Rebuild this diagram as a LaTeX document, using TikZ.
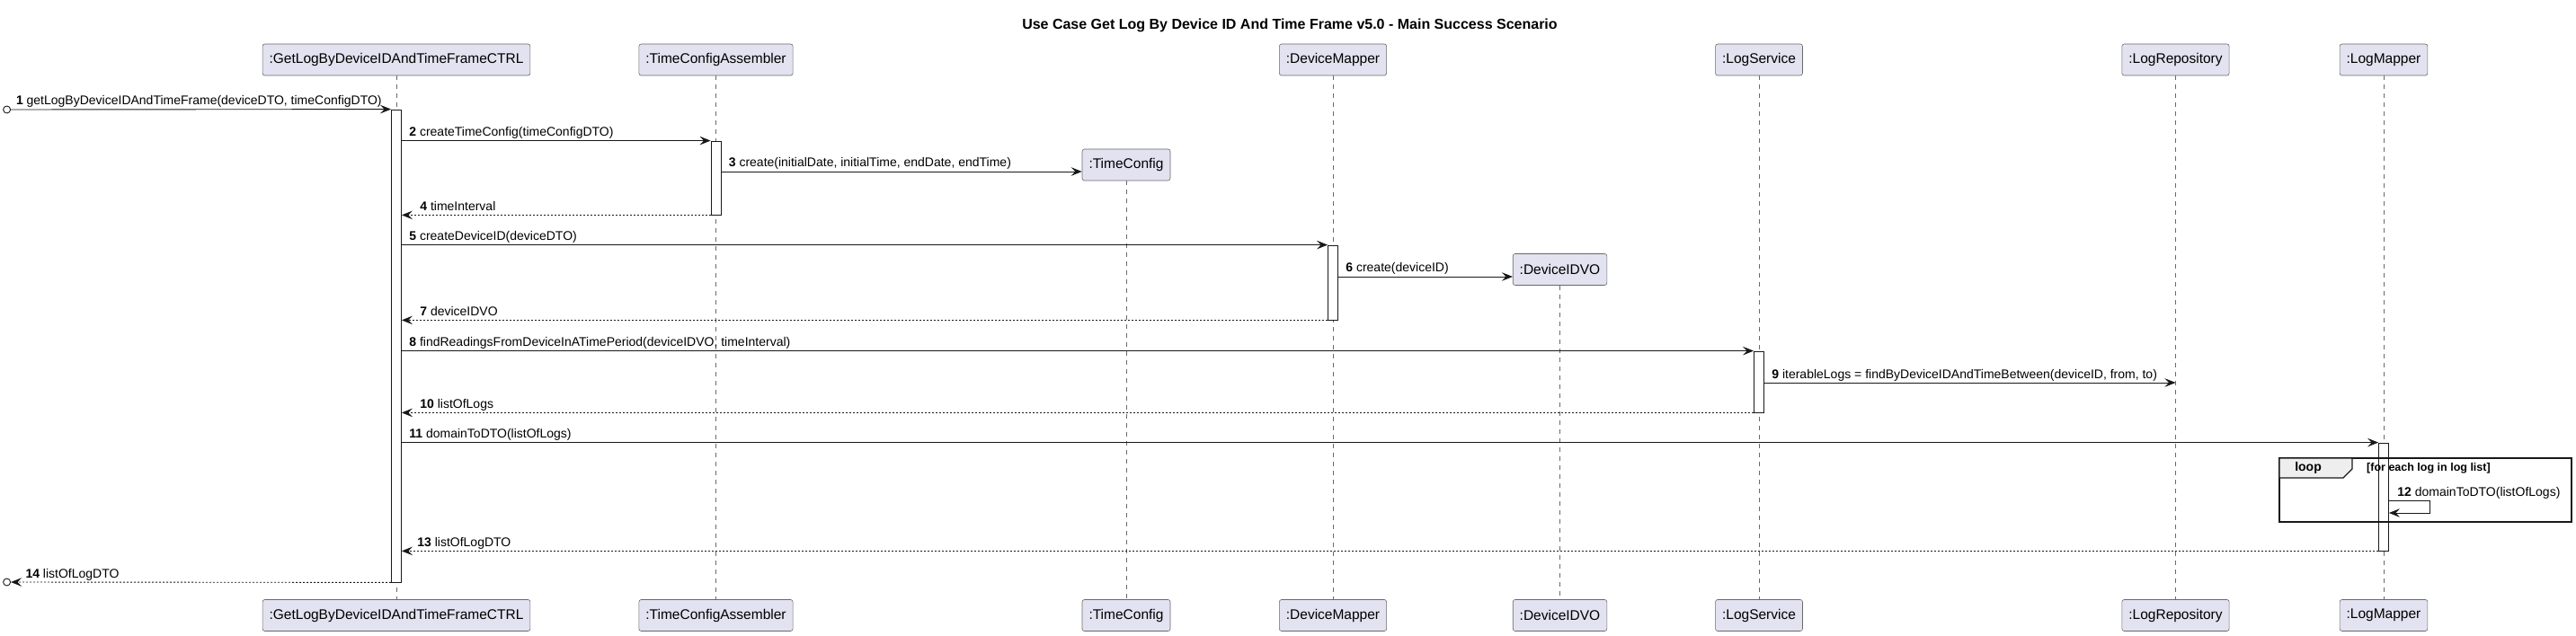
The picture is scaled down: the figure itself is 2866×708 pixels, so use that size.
\documentclass[tikz,border=0pt]{standalone}
\usepackage{fontspec}
\setmainfont{Liberation Sans}
\usetikzlibrary{arrows.meta,fit}
\definecolor{partfill}{HTML}{E2E2F0}
\definecolor{linecol}{HTML}{181818}
\definecolor{tabfill}{HTML}{EEEEEE}
\begin{document}
\begin{tikzpicture}[
    x=1pt, y=-1pt,
    participant/.style = {draw=linecol!65, line width=0.6pt, fill=partfill, rounded corners=2.5pt,
      minimum height=35pt, inner xsep=7.5pt, font=\fontsize{15.5}{18}\selectfont},
    lifeline/.style = {draw=linecol!65, line width=0.5pt, dash pattern=on 5pt off 5pt},
    actbar/.style = {draw=linecol, line width=0.8pt, fill=white, inner xsep=5.5pt, inner ysep=0pt},
    msg/.style = {draw=linecol, line width=0.9pt, -{Stealth[length=12pt, width=9.5pt, inset=4.5pt]}},
    ret/.style = {msg, dash pattern=on 2pt off 2pt},
    endpoint/.style = {draw=linecol, circle, line width=0.9pt, minimum size=8pt, inner sep=0pt},
    lbl/.style = {anchor=base west, inner sep=0pt, yshift=5pt, font=\fontsize{14}{16}\selectfont}
    ]
    \useasboundingbox (0,0) rectangle (2866,708);

    \node[font=\bfseries\fontsize{16}{19}\selectfont] (title) at (1435,28)
      {Use Case Get Log By Device ID And Time Frame v5.0 - Main Success Scenario};

    % participants, top and bottom
    \node[participant] (ctrl) at (441,66.5) {:GetLogByDeviceIDAndTimeFrameCTRL};
    \node[participant] (asm)  at (796.5,66.5) {:TimeConfigAssembler};
    \node[participant] (tc)   at (1253,183.5) {:TimeConfig};
    \node[participant] (dm)   at (1483,66.5) {:DeviceMapper};
    \node[participant] (dvo)  at (1735.5,300) {:DeviceIDVO};
    \node[participant] (ls)   at (1957,66.5) {:LogService};
    \node[participant] (lr)   at (2420.5,66.5) {:LogRepository};
    \node[participant] (lm)   at (2652,66.5) {:LogMapper};

    \node[participant] (ctrlB) at (441,685) {:GetLogByDeviceIDAndTimeFrameCTRL};
    \node[participant] (asmB)  at (796.5,685) {:TimeConfigAssembler};
    \node[participant] (tcB)   at (1253,685) {:TimeConfig};
    \node[participant] (dmB)   at (1483,685) {:DeviceMapper};
    \node[participant] (dvoB)  at (1735.5,685) {:DeviceIDVO};
    \node[participant] (lsB)   at (1957,685) {:LogService};
    \node[participant] (lrB)   at (2420.5,685) {:LogRepository};
    \node[participant] (lmB)   at (2652,685) {:LogMapper};

    % lifelines
    \foreach \p in {ctrl, asm, tc, dm, dvo, ls, lr, lm}
      \draw[lifeline] (\p.south) -- (\p B.north);

    % activations
    \node[actbar, fit={(ctrl.south |- 0,122) (ctrl.south |- 0,648)}] (barCtrl) {};
    \node[actbar, fit={(asm.south |- 0,157) (asm.south |- 0,239)}] (barAsm) {};
    \node[actbar, fit={(dm.south |- 0,273) (dm.south |- 0,356)}] (barDm) {};
    \node[actbar, fit={(ls.south |- 0,391) (ls.south |- 0,459)}] (barLs) {};
    \node[actbar, fit={(lm.south |- 0,493) (lm.south |- 0,613)}] (barLm) {};

    \node[endpoint] (start) at (7.6,122) {};
    \node[endpoint] (finish) at (7.6,648) {};

    % loop frame
    \draw[draw=linecol, line width=1.5pt] (2536,510) rectangle (2861,581);
    \draw[draw=linecol, line width=1.2pt, fill=tabfill]
      (2536,510) -- (2617,510) -- (2617,522) -- (2607,532) -- (2536,532) -- cycle;
    \node[font=\bfseries\fontsize{14}{16}\selectfont, inner sep=0pt] (loopLbl) at (2568,521) {loop};
    \node[font=\bfseries\fontsize{12.5}{15}\selectfont, anchor=west, inner sep=0pt] (loopGuard)
      at (2633,521) {[for each log in log list]};

    % messages
    \draw[msg] (start) -- (barCtrl.north west)
      node[lbl, pos=0, xshift=5.5pt] {\textbf{1} getLogByDeviceIDAndTimeFrame(deviceDTO, timeConfigDTO)};
    \draw[msg] (barCtrl.east |- barAsm.north) -- (barAsm.north west)
      node[lbl, pos=0, xshift=8pt] {\textbf{2} createTimeConfig(timeConfigDTO)};
    \draw[msg] (barAsm.east |- 0,191) -- (tc.west |- 0,191)
      node[lbl, pos=0, xshift=8pt] {\textbf{3} create(initialDate, initialTime, endDate, endTime)};
    \draw[ret] (barAsm.south west) -- (barCtrl.east |- barAsm.south)
      node[lbl, pos=1, xshift=20pt] {\textbf{4} timeInterval};
    \draw[msg] (barCtrl.east |- barDm.north) -- (barDm.north west)
      node[lbl, pos=0, xshift=8pt] {\textbf{5} createDeviceID(deviceDTO)};
    \draw[msg] (barDm.east |- 0,308) -- (dvo.west |- 0,308)
      node[lbl, pos=0, xshift=8pt] {\textbf{6} create(deviceID)};
    \draw[ret] (barDm.south west) -- (barCtrl.east |- barDm.south)
      node[lbl, pos=1, xshift=20pt] {\textbf{7} deviceIDVO};
    \draw[msg] (barCtrl.east |- barLs.north) -- (barLs.north west)
      node[lbl, pos=0, xshift=8pt] {\textbf{8} findReadingsFromDeviceInATimePeriod(deviceIDVO, timeInterval)};
    \draw[msg] (barLs.east |- 0,426) -- (lr.south |- 0,426)
      node[lbl, pos=0, xshift=8pt] {\textbf{9} iterableLogs = findByDeviceIDAndTimeBetween(deviceID, from, to)};
    \draw[ret] (barLs.south west) -- (barCtrl.east |- barLs.south)
      node[lbl, pos=1, xshift=20pt] {\textbf{10} listOfLogs};
    \draw[msg] (barCtrl.east |- barLm.north) -- (barLm.north west)
      node[lbl, pos=0, xshift=8pt] {\textbf{11} domainToDTO(listOfLogs)};
    \draw[msg] (barLm.east |- 0,557) node[lbl, xshift=9pt] {\textbf{12} domainToDTO(listOfLogs)}
      -- ++(46,0) -- ++(0,14) -- (barLm.east |- 0,571);
    \draw[ret] (barLm.south west) -- (barCtrl.east |- barLm.south)
      node[lbl, pos=1, xshift=17pt] {\textbf{13} listOfLogDTO};
    \draw[ret] (barCtrl.south west) -- (finish)
      node[lbl, pos=1, xshift=16pt] {\textbf{14} listOfLogDTO};
  \end{tikzpicture}
\end{document}
